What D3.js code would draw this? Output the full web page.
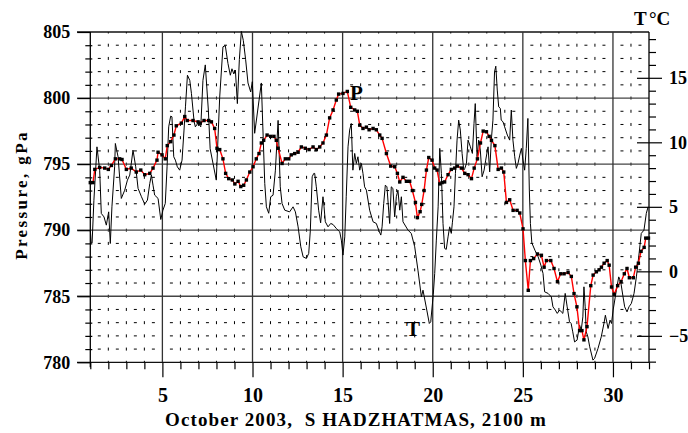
<!DOCTYPE html>
<html><head><meta charset="utf-8">
<script src="https://cdn.jsdelivr.net/npm/d3@7"></script>
<style>
html,body{margin:0;padding:0;background:#fff;}
svg text{font-family:"Liberation Serif","Times New Roman",serif;font-weight:bold;fill:#000;}
</style></head>
<body><svg id="c" width="688" height="433"></svg>
<script>
// ---- data ----
const pressureTicks = [780, 785, 790, 795, 800, 805];
const tempTicks = [-5, 0, 5, 10, 15];
const dayTicks = [5, 10, 15, 20, 25, 30];
const dayDomain = [1, 32];
const pressureDomain = [780, 805];
const tempDomain = [-7.05, 18.55];

const pDays = [1.0,1.15,1.25,1.52,1.8,2.0,2.17,2.39,2.63,2.76,3.0,3.27,3.55,3.8,4.02,4.3,4.48,4.7,4.76,4.98,5.16,5.27,5.46,5.64,5.77,6.05,6.24,6.38,6.7,6.98,7.1,7.31,7.57,7.72,7.9,8.03,8.18,8.36,8.51,8.68,8.88,9.02,9.2,9.35,9.51,9.66,9.85,10.03,10.21,10.36,10.49,10.62,10.81,11.01,11.19,11.32,11.42,11.64,11.82,12.01,12.15,12.34,12.53,12.71,12.93,13.14,13.36,13.54,13.73,13.91,14.1,14.28,14.47,14.65,14.78,15.02,15.26,15.45,15.67,15.82,15.95,16.13,16.32,16.47,16.69,16.87,17.06,17.19,17.43,17.67,17.89,18.04,18.17,18.35,18.54,18.72,18.87,19.04,19.15,19.3,19.39,19.52,19.65,19.78,19.96,20.11,20.24,20.39,20.52,20.66,20.85,21.03,21.22,21.37,21.59,21.78,21.96,22.15,22.3,22.48,22.65,22.8,22.98,23.13,23.26,23.45,23.63,23.81,23.94,24.09,24.27,24.46,24.68,24.83,25.01,25.14,25.3,25.42,25.6,25.81,26.03,26.18,26.31,26.55,26.73,26.92,27.1,27.29,27.51,27.69,27.84,28.0,28.15,28.28,28.39,28.56,28.77,28.9,29.08,29.23,29.36,29.51,29.68,29.79,29.92,30.07,30.26,30.45,30.63,30.78,30.91,31.13,31.26,31.41,31.56,31.73,31.82,31.97];
const pValues = [793.6,793.6,794.6,794.75,794.7,794.6,794.9,795.4,795.4,795.35,794.6,794.7,794.4,794.55,794.2,794.3,794.7,795.3,795.9,795.7,795.4,796.4,796.7,797.2,797.9,798.1,798.6,798.3,798.3,798.2,798.1,798.3,798.3,798.2,797.7,796.2,796.1,795.4,794.3,793.9,793.8,793.5,793.7,793.3,793.4,793.8,794.4,794.8,795.4,795.8,796.6,796.8,797.2,797.1,797.1,796.8,796.2,795.05,795.4,795.4,795.7,795.8,795.9,796.3,796.2,796.1,796.3,796.1,796.3,796.6,797.2,798.5,799.1,799.85,800.3,800.35,800.5,799.3,799.1,799.0,797.95,797.7,797.8,797.6,797.7,797.6,797.2,796.95,795.8,794.85,794.8,794.3,793.65,794.0,793.7,793.7,793.0,792.1,790.95,791.4,791.95,793.0,794.55,795.5,795.3,794.7,794.55,793.5,793.6,793.65,794.2,794.6,794.7,794.85,794.7,794.3,794.2,793.9,794.7,795.4,796.6,797.5,797.45,797.1,796.8,796.4,794.6,794.7,794.4,792.1,792.3,791.5,791.5,791.3,790.1,787.7,785.45,787.7,787.85,788.2,788.1,787.2,787.7,787.7,787.1,786.1,786.7,786.7,786.8,786.5,785.2,784.2,782.4,782.4,781.7,782.7,785.8,786.6,786.85,787.0,787.2,787.5,787.7,787.35,785.7,785.15,785.8,786.1,786.7,787.1,786.4,786.4,787.2,787.5,788.4,788.7,789.4,789.4];

const tDays = [1.0,1.05,1.1,1.2,1.37,1.52,1.61,1.76,1.89,2.02,2.11,2.2,2.35,2.39,2.54,2.72,2.91,3.06,3.19,3.37,3.52,3.65,3.84,4.02,4.17,4.3,4.39,4.48,4.57,4.76,4.91,5.03,5.16,5.26,5.35,5.46,5.53,5.63,5.72,5.83,5.96,6.09,6.2,6.28,6.39,6.52,6.61,6.76,6.83,6.98,7.13,7.25,7.38,7.55,7.65,7.99,8.18,8.36,8.49,8.64,8.77,8.86,8.96,9.05,9.16,9.27,9.38,9.49,9.62,9.75,9.9,9.99,10.12,10.49,10.68,10.77,10.9,11.01,11.14,11.27,11.42,11.54,11.64,11.79,12.06,12.25,12.38,12.53,12.68,12.81,12.99,13.12,13.21,13.31,13.4,13.45,13.54,13.67,13.78,13.91,13.97,14.04,14.19,14.34,14.47,14.65,14.84,14.93,15.02,15.12,15.2,15.3,15.39,15.48,15.57,15.67,15.76,15.85,15.95,16.04,16.13,16.22,16.32,16.5,16.69,16.87,17.0,17.12,17.19,17.28,17.37,17.46,17.61,17.7,17.79,17.89,17.98,18.07,18.17,18.26,18.35,18.63,18.81,19.0,19.18,19.37,19.46,19.67,19.81,19.89,20.03,20.11,20.2,20.3,20.39,20.48,20.57,20.66,20.75,20.85,20.94,21.03,21.09,21.18,21.26,21.35,21.44,21.53,21.63,21.72,21.78,21.87,21.96,22.09,22.2,22.29,22.36,22.46,22.55,22.64,22.74,22.85,22.94,23.07,23.16,23.25,23.34,23.43,23.5,23.58,23.66,23.75,23.8,23.9,23.99,24.14,24.27,24.36,24.45,24.55,24.64,24.73,24.83,24.92,25.01,25.1,25.19,25.28,25.36,25.42,25.5,25.67,25.85,26.0,26.12,26.21,26.4,26.58,26.67,26.8,26.91,27.04,27.13,27.22,27.35,27.46,27.59,27.68,27.77,27.87,28.01,28.15,28.24,28.33,28.39,28.46,28.52,28.61,28.71,28.89,28.98,29.17,29.35,29.5,29.58,29.73,29.84,29.92,30.01,30.19,30.32,30.43,30.56,30.65,30.78,30.89,31.02,31.17,31.3,31.43,31.57,31.72,31.85,31.95];
const tValues = [3.2,2.2,2.2,5.5,9.65,7.84,4.49,4.22,3.58,4.61,2.16,5.0,8.1,9.91,8.88,5.65,6.29,7.07,7.46,9.4,8.1,6.43,5.78,5.21,5.52,6.81,7.46,6.68,5.91,5.65,4.02,4.74,5.26,8.1,11.2,12.03,11.98,8.88,8.62,8.1,7.84,8.62,10.95,12.75,15.2,14.8,13.8,11.6,11.2,11.5,11.2,14.8,16.0,12.5,9.5,7.07,13.5,17.4,17.5,16.1,15.2,15.7,15.3,15.6,13.0,16.4,18.6,17.9,16.4,14.6,13.9,14.7,10.7,14.6,6.81,5.0,4.5,5.78,5.9,7.84,11.7,6.55,5.26,4.74,4.61,5.0,4.61,3.45,1.9,1.12,1.0,1.39,3.19,7.33,7.59,7.59,6.55,4.74,3.76,5.78,5.0,3.84,3.45,3.71,3.63,3.32,3.06,2.42,1.26,2.67,5.78,9.65,10.95,11.46,7.84,9.14,8.36,8.88,7.84,8.36,7.59,6.55,6.29,4.74,3.84,3.71,3.19,2.81,3.45,5.26,6.68,6.55,3.71,6.55,6.43,4.22,5.78,6.29,4.74,5.78,3.84,3.19,2.94,1.9,0.09,-1.98,-1.46,-3.0,-4.04,-3.91,-1.8,-0.16,2.42,5.0,9.53,7.59,3.71,1.78,1.7,2.67,3.45,2.94,3.76,5.0,7.59,10.17,11.72,10.95,9.14,7.84,7.98,8.36,10.17,9.65,9.14,11.46,13.0,8.88,10.17,9.4,7.33,7.84,8.62,9.65,7.71,10.17,11.72,15.47,15.9,14.05,12.75,12.63,11.72,11.59,11.2,10.56,10.17,12.5,10.17,8.88,7.98,8.36,9.01,9.53,8.62,7.84,9.53,11.85,6.3,3.7,2.2,1.64,1.12,0.48,-0.16,-1.59,-1.71,-1.98,-2.75,-3.0,-3.26,-3.0,-3.14,-3.26,-1.71,-2.75,-3.91,-4.04,-4.69,-5.47,-5.33,-4.17,-4.56,-3.53,-1.2,-2.75,-4.69,-5.08,-5.85,-6.88,-6.75,-5.98,-5.08,-4.04,-3.4,-4.43,-3.78,-4.04,-3.0,-1.46,-0.43,-0.81,-1.98,-2.75,-3.14,-2.75,-2.49,-1.71,-0.43,1.12,2.94,3.19,4.49,5.0];

// ---- layout ----
const svg = d3.select("#c");
const x = d3.scaleLinear().domain(dayDomain).range([90.3, 649]);
const yP = d3.scaleLinear().domain(pressureDomain).range([362.3, 32]);
const yT = d3.scaleLinear().domain(tempDomain).range([362.3, 32]);
const dayPx = x(2) - x(1);
const hPx = yP(780) - yP(781);
const pL = x(1), pR = x(32), pTop = yP(805), pBot = yP(780);

// minor dotted grid: horizontal rows at each hPa
const minorP = d3.range(781, 805).filter(v => v % 5 !== 0);
const sH = (x(1.5) - 1.5) - pL;
svg.append("g").selectAll("line").data(minorP).join("line")
  .attr("x1", pL).attr("x2", pR)
  .attr("y1", d => yP(d)).attr("y2", d => yP(d))
  .attr("stroke", "#000").attr("stroke-width", 1)
  .attr("stroke-dasharray", `3,${dayPx - 3}`)
  .attr("stroke-dashoffset", dayPx - sH);
// vertical dotted at each day
const minorD = d3.range(2, 32).filter(v => v % 5 !== 0);
svg.append("g").selectAll("line").data(minorD).join("line")
  .attr("x1", d => x(d)).attr("x2", d => x(d))
  .attr("y1", pTop).attr("y2", pBot)
  .attr("stroke", "#000").attr("stroke-width", 1)
  .attr("stroke-dasharray", `3,${hPx - 3}`)
  .attr("stroke-dashoffset", 1.5);

// main grid
svg.append("g").selectAll("line").data(pressureTicks).join("line")
  .attr("x1", 77).attr("x2", pR)
  .attr("y1", d => yP(d)).attr("y2", d => yP(d))
  .attr("stroke", d => (d === 805 || d === 780) ? "#111" : "#444").attr("stroke-width", 1.3);
svg.append("g").selectAll("line").data(dayTicks).join("line")
  .attr("x1", d => x(d)).attr("x2", d => x(d))
  .attr("y1", pTop).attr("y2", pBot)
  .attr("stroke", "#333").attr("stroke-width", 1.3);

// axis frame lines
svg.append("line").attr("x1", pL).attr("x2", pL).attr("y1", pTop).attr("y2", pBot + 5)
  .attr("stroke", "#000").attr("stroke-width", 1.3);
svg.append("line").attr("x1", pR).attr("x2", pR).attr("y1", pTop).attr("y2", pBot)
  .attr("stroke", "#000").attr("stroke-width", 1.3);

function styleAxis(g) {
  g.select(".domain").remove();
  g.selectAll(".tick line").attr("stroke", "#000").attr("stroke-width", 1.2);
}
// left axis major labels
svg.append("g").attr("transform", `translate(${pL},0)`)
  .call(d3.axisLeft(yP).tickValues(pressureTicks).tickSize(13).tickPadding(7).tickFormat(d3.format("d")))
  .call(styleAxis)
  .call(g => g.selectAll("text").style("font-size", "18px"));
// left minor ticks
svg.append("g").attr("transform", `translate(${pL + 2},0)`)
  .call(d3.axisLeft(yP).tickValues(minorP).tickSize(7).tickFormat(""))
  .call(styleAxis);
// right axis
svg.append("g").attr("transform", `translate(637,0)`)
  .call(d3.axisRight(yT).tickValues(tempTicks).tickSize(25).tickPadding(7).tickFormat(d3.format("d")))
  .call(styleAxis)
  .call(g => g.selectAll("text").style("font-size", "18px"));
svg.append("g").attr("transform", `translate(${pR},0)`)
  .call(d3.axisRight(yT).tickValues(d3.range(-7, 19).filter(v => v % 5 !== 0)).tickSize(7).tickFormat(""))
  .call(styleAxis);
// bottom axis
svg.append("g").attr("transform", `translate(0,${pBot})`)
  .call(d3.axisBottom(x).tickValues(d3.range(1, 33).filter(v => v % 5 !== 0)).tickSize(7).tickFormat(""))
  .call(styleAxis);
svg.append("g").attr("transform", `translate(0,${pBot})`)
  .call(d3.axisBottom(x).tickValues(dayTicks).tickSize(15).tickPadding(11).tickFormat(d3.format("d")))
  .call(styleAxis)
  .call(g => g.selectAll("text").style("font-size", "20px"));

// temperature line
const tData = tDays.map((d, i) => [d, tValues[i]]);
svg.append("path").datum(tData)
  .attr("fill", "none").attr("stroke", "#000").attr("stroke-width", 1)
  .attr("d", d3.line().x(d => x(d[0])).y(d => yT(d[1])));

// pressure line
const pData = pDays.map((d, i) => [d, pValues[i]]);
svg.append("path").datum(pData)
  .attr("fill", "none").attr("stroke", "#ff0000").attr("stroke-width", 1.4)
  .attr("d", d3.line().x(d => x(d[0])).y(d => yP(d[1])));
svg.append("g").selectAll("rect").data(pData).join("rect")
  .attr("x", d => x(d[0]) - 1.7).attr("y", d => yP(d[1]) - 1.7)
  .attr("width", 3.4).attr("height", 3.4).attr("fill", "#000");

// labels
svg.append("text").attr("x", 350).attr("y", 100).style("font-size", "21px").text("P");
svg.append("text").attr("x", 406).attr("y", 336).style("font-size", "21px").text("T");
svg.append("text").attr("x", 634).attr("y", 25).style("font-size", "19px").text("T");
svg.append("text").attr("x", 649).attr("y", 25).style("font-size", "19px").text("°C");
svg.append("text").attr("transform", `translate(27,195) rotate(-90)`).attr("text-anchor", "middle")
  .style("font-size", "17px").style("letter-spacing", "2.4px").text("Pressure, gPa");
svg.append("text").attr("x", 356).attr("y", 426).attr("text-anchor", "middle")
  .style("font-size", "19px").style("letter-spacing", "1.1px").style("white-space", "pre")
  .text("October 2003,  S HADZHATMAS, 2100 m");
</script></body></html>
